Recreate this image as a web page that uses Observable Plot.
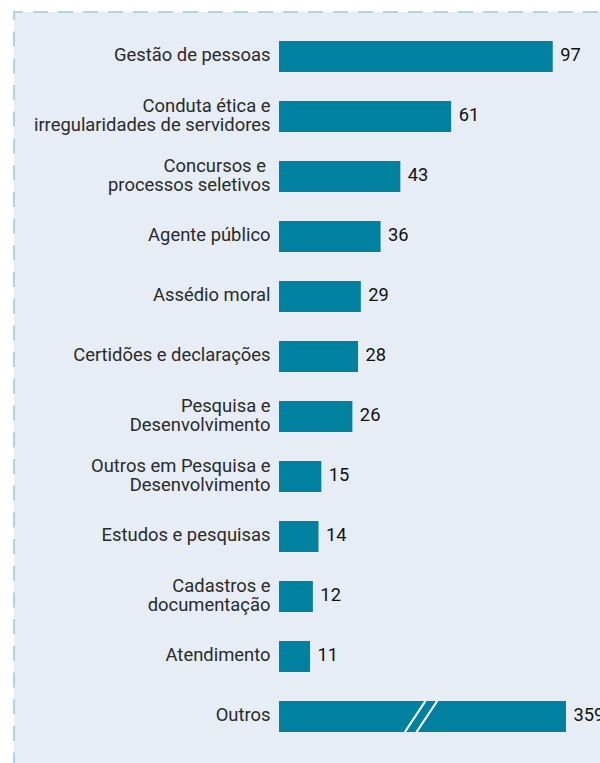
<!DOCTYPE html>
<html>
<head>
<meta charset="utf-8">
<script src="https://cdn.jsdelivr.net/npm/d3@7"></script>
<script src="https://cdn.jsdelivr.net/npm/@observablehq/plot@0.6"></script>
<style>
  html, body { margin: 0; padding: 0; background: #ffffff; }
  #chart { width: 600px; height: 763px; overflow: hidden; }
  svg { display: block; }
</style>
</head>
<body>
<div id="chart"></div>
<script>
const categories = [
  "Gestão de pessoas",
  "Conduta ética e\nirregularidades de servidores",
  "Concursos e \nprocessos seletivos",
  "Agente público",
  "Assédio moral",
  "Certidões e declarações",
  "Pesquisa e\nDesenvolvimento",
  "Outros em Pesquisa e\nDesenvolvimento",
  "Estudos e pesquisas",
  "Cadastros e\ndocumentação",
  "Atendimento",
  "Outros"
];
const values = [97, 61, 43, 36, 29, 28, 26, 15, 14, 12, 11, 359];
// axis break: the longest bar is cut at the visible maximum
const visibleMax = 101.7;
const breakAt = [44.6, 48.75];  // start of each slash (data units) on the broken bar
const brokenCategory = "Outros";

const data = categories.map((c, i) => ({category: c, value: values[i]}));
const slashes = breakAt.map(b => ({category: brokenCategory, x1: b, x2: b + 7.3}));

const W = 600, H = 763;
const barColor = "#00819f";

const plot = Plot.plot({
  width: W,
  height: H,
  marginLeft: 279,
  marginRight: 34,
  marginTop: 25.4,
  marginBottom: 15.2,
  style: {background: "transparent", fontFamily: "Roboto, sans-serif", color: "#1a1a1a", overflow: "visible"},
  x: {domain: [0, visibleMax], clamp: true, axis: null},
  y: {domain: categories, paddingInner: 0.485, paddingOuter: 0.2425, axis: null},
  marks: [
    Plot.barX(data, {x: "value", y: "category", fill: barColor}),
    Plot.link(slashes, {
      x1: "x1", x2: "x2",
      y1: "category", y2: "category",
      stroke: "#ffffff", strokeWidth: 2.2,
      render(index, scales, values, dimensions, context, next) {
        const g = next(index, scales, values, dimensions, context);
        const bw = scales.y.bandwidth();
        d3.select(g).attr("transform", null);
        d3.select(g).selectAll("*").attr("transform", null);
        d3.select(g).selectAll("path").each(function(_, j) {
          const i = index[j];
          const xa = values.x1[i], xb = values.x2[i], yc = values.y1[i];
          d3.select(this).attr("d", `M${xa},${yc + bw}L${xb},${yc}`);
        });
        return g;
      }
    }),
    Plot.text(data, {
      x: 0, y: "category", text: "category",
      textAnchor: "end", dx: -9, dy: -1.5, fontSize: 18.4, lineHeight: 1.01,
      fill: "#2a2a2a"
    }),
    Plot.text(data, {
      x: "value", y: "category", text: d => String(d.value),
      textAnchor: "start", dx: 7, dy: -1.5, fontSize: 18.3, fill: "#111111"
    })
  ]
});

// panel background with dashed top and left borders
const svg = d3.select(plot);
const panel = svg.insert("g", ":first-child");
panel.append("rect").attr("x", 14).attr("y", 12).attr("width", W - 14).attr("height", H - 12).attr("fill", "#e6edf4");
panel.append("line").attr("x1", 13).attr("y1", 12).attr("x2", W).attr("y2", 12)
  .attr("stroke", "#b7d2e2").attr("stroke-width", 2).attr("stroke-dasharray", "15,10").attr("stroke-dashoffset", 5);
panel.append("line").attr("x1", 14).attr("y1", 12).attr("x2", 14).attr("y2", H)
  .attr("stroke", "#b7d2e2").attr("stroke-width", 2.2).attr("stroke-dasharray", "15,11.7").attr("stroke-dashoffset", 7);

document.getElementById("chart").appendChild(plot);
</script>
</body>
</html>
